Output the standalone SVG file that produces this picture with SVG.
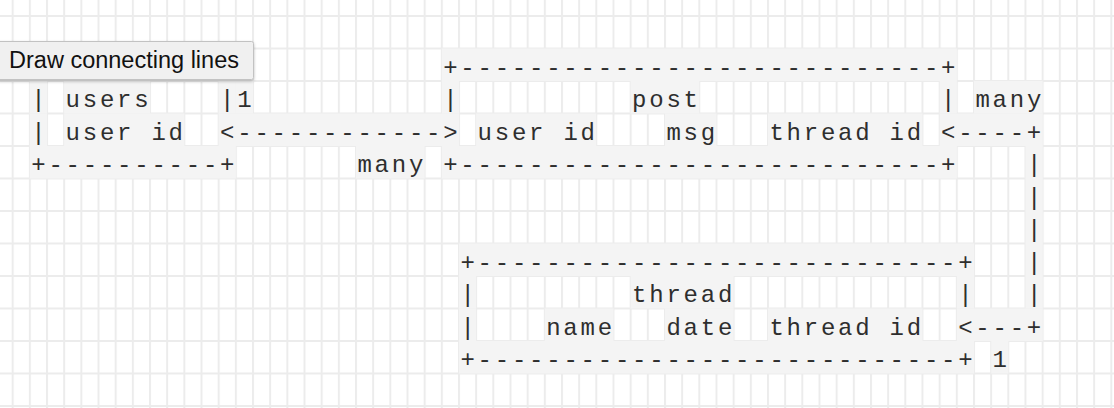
<svg xmlns="http://www.w3.org/2000/svg" width="1114" height="408" viewBox="0 0 1114 408">
<style>
.g{fill:#f4f4f4}
.t{font-family:"Liberation Mono","DejaVu Sans Mono",monospace;font-size:24px;letter-spacing:2.766px;fill:#2e2e2e}
.tip{font-family:"Liberation Sans",Arial,sans-serif;font-size:23px;fill:#111}
</style>
<defs>
<pattern id="grid" x="11.7" y="15" width="17.166" height="32.5" patternUnits="userSpaceOnUse">
<rect x="0" y="0" width="2" height="32.5" fill="#ececec"/>
<rect x="0" y="0" width="17.166" height="2" fill="#ececec"/>
</pattern>
<filter id="sh" x="-10%" y="-30%" width="120%" height="170%">
<feDropShadow dx="0" dy="1.5" stdDeviation="1.5" flood-color="#000" flood-opacity="0.25"/>
</filter>
</defs>
<rect width="1114" height="408" fill="#ffffff"/>
<rect width="1114" height="408" fill="url(#grid)"/>

<g id="users">
<rect class="g" x="29.87" y="81" width="17.17" height="32.5"/>
<rect class="g" x="64.20" y="81" width="85.83" height="32.5"/>
<rect class="g" x="218.69" y="81" width="17.17" height="32.5"/>
<rect class="g" x="29.87" y="113.5" width="17.17" height="32.5"/>
<rect class="g" x="64.20" y="113.5" width="120.16" height="32.5"/>
<rect class="g" x="29.87" y="146" width="205.99" height="32.5"/>
<text class="t" x="31.25" y="107">|</text>
<text class="t" x="65.6" y="107">users</text>
<text class="t" x="220.07" y="107">|</text>
<text class="t" x="31.25" y="139.5">|</text>
<text class="t" x="65.6" y="139.5">user id</text>
<text class="t" x="31.25" y="172">+----------+</text>
</g>

<g id="post">
<rect class="g" x="441.85" y="48.5" width="514.98" height="32.5"/>
<rect class="g" x="441.85" y="81" width="17.17" height="32.5"/>
<rect class="g" x="630.68" y="81" width="68.66" height="32.5"/>
<rect class="g" x="939.66" y="81" width="17.17" height="32.5"/>
<rect class="g" x="476.18" y="113.5" width="120.16" height="32.5"/>
<rect class="g" x="665.01" y="113.5" width="51.5" height="32.5"/>
<rect class="g" x="767.99" y="113.5" width="154.49" height="32.5"/>
<rect class="g" x="441.85" y="146" width="514.98" height="32.5"/>
<text class="t" x="443.2" y="74.5">+----------------------------+</text>
<text class="t" x="443.2" y="107">|</text>
<text class="t" x="632.1" y="107">post</text>
<text class="t" x="941.0" y="107">|</text>
<text class="t" x="477.6" y="139.5">user id</text>
<text class="t" x="666.4" y="139.5">msg</text>
<text class="t" x="769.4" y="139.5">thread id</text>
<text class="t" x="443.2" y="172">+----------------------------+</text>
</g>

<g id="thread">
<rect class="g" x="459.02" y="243.5" width="514.98" height="32.5"/>
<rect class="g" x="459.02" y="276" width="17.17" height="32.5"/>
<rect class="g" x="630.68" y="276" width="103" height="32.5"/>
<rect class="g" x="956.83" y="276" width="17.17" height="32.5"/>
<rect class="g" x="459.02" y="308.5" width="17.17" height="32.5"/>
<rect class="g" x="544.85" y="308.5" width="68.66" height="32.5"/>
<rect class="g" x="665.01" y="308.5" width="68.66" height="32.5"/>
<rect class="g" x="767.99" y="308.5" width="154.49" height="32.5"/>
<rect class="g" x="459.02" y="341" width="514.98" height="32.5"/>
<text class="t" x="460.4" y="269.5">+----------------------------+</text>
<text class="t" x="460.4" y="302">|</text>
<text class="t" x="632.1" y="302">thread</text>
<text class="t" x="958.2" y="302">|</text>
<text class="t" x="460.4" y="334.5">|</text>
<text class="t" x="546.2" y="334.5">name</text>
<text class="t" x="666.4" y="334.5">date</text>
<text class="t" x="769.4" y="334.5">thread id</text>
<text class="t" x="460.4" y="367">+----------------------------+</text>
</g>

<g id="connectors">
<rect class="g" x="235.86" y="81" width="17.17" height="32.5"/>
<rect class="g" x="218.69" y="113.5" width="240.32" height="32.5"/>
<rect class="g" x="356.02" y="146" width="68.66" height="32.5"/>
<rect class="g" x="973.99" y="81" width="68.66" height="32.5"/>
<rect class="g" x="939.66" y="113.5" width="103" height="32.5"/>
<rect class="g" x="1025.49" y="146" width="17.17" height="162.5"/>
<rect class="g" x="956.83" y="308.5" width="85.83" height="32.5"/>
<rect class="g" x="991.16" y="341" width="17.17" height="32.5"/>
<text class="t" x="237.2" y="107">1</text>
<text class="t" x="220.07" y="139.5">&lt;------------&gt;</text>
<text class="t" x="357.4" y="172">many</text>
<text class="t" x="975.4" y="107">many</text>
<text class="t" x="941.0" y="139.5">&lt;----+</text>
<text class="t" x="1026.9" y="172">|</text>
<text class="t" x="1026.9" y="204.5">|</text>
<text class="t" x="1026.9" y="237">|</text>
<text class="t" x="1026.9" y="269.5">|</text>
<text class="t" x="1026.9" y="302">|</text>
<text class="t" x="958.2" y="334.5">&lt;---+</text>
<text class="t" x="992.5" y="367">1</text>
</g>

<g id="tooltip">
<rect x="-3" y="41.5" width="256.5" height="38" rx="2" fill="#f0f0f0" stroke="#c2c2c2" stroke-width="1" filter="url(#sh)"/>
<text class="tip" x="9" y="67.8" textLength="230" lengthAdjust="spacingAndGlyphs">Draw connecting lines</text>
</g>
</svg>
